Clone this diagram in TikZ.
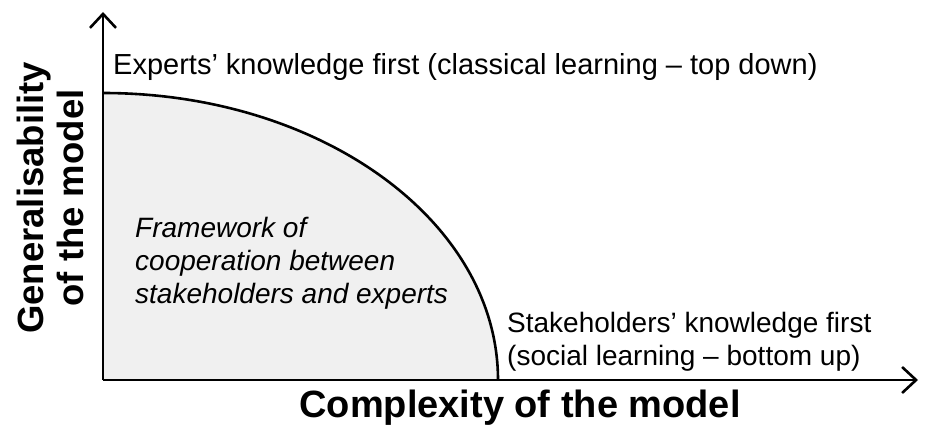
\documentclass[tikz,border=0pt]{standalone}
\usepackage{fontspec}
\setmainfont{Liberation Sans}
\usetikzlibrary{arrows.meta}
\begin{document}
\begin{tikzpicture}[x=1pt,y=-1pt,
  axis/.style={line width=2.6pt,-{Straight Barb[length=14pt,width=26pt,line width=2.6pt]}},
  lbl/.style={font=\fontsize{28}{33}\selectfont,anchor=west,inner sep=0pt,align=left},
  axlbl/.style={inner sep=0pt,align=center}]
\useasboundingbox (0,0) rectangle (927,428);
\coordinate (o) at (103,380);
\coordinate (ytop) at (103,12);
\coordinate (xend) at (918,380);
\coordinate (c0) at (103,93);
\fill[fill={rgb,255:red,240;green,240;blue,240}] (o) -- (c0) arc[start angle=90,end angle=0,x radius=395,y radius=-287] -- cycle;
\draw[line width=2.6pt] (c0) arc[start angle=90,end angle=0,x radius=395,y radius=-287];
\draw[axis] (o) -- (ytop);
\draw[axis] (o) -- (xend);
\node[lbl,font=\fontsize{29}{33}\selectfont] (top) at (113,67) {Experts’ knowledge first (classical learning – top down)};
\node[lbl,font=\fontsize{28}{33}\selectfont\itshape] (fw) at (135,263) {Framework of\\cooperation between\\stakeholders and experts};
\node[lbl] (sk) at (507,342) {Stakeholders’ knowledge first\\(social learning – bottom up)};
\node[axlbl,font=\fontsize{38}{40}\selectfont\bfseries] (xl) at (520,408) {Complexity of the model};
\node[axlbl,rotate=90,font=\fontsize{36.5}{40}\selectfont\bfseries] (yl) at (50,198) {Generalisability\\of the model};
\end{tikzpicture}
\end{document}
